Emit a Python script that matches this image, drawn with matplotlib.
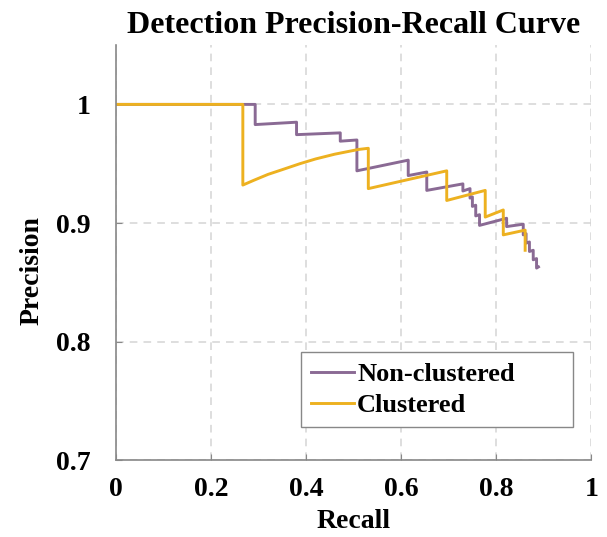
import matplotlib
matplotlib.use("Agg")
import matplotlib.pyplot as plt

# Non-clustered PR curve (recall, precision)
recall_nc = [0.0, 0.293, 0.293, 0.380, 0.380, 0.472, 0.472, 0.507, 0.507,
             0.615, 0.615, 0.654, 0.654, 0.730, 0.730, 0.745, 0.745, 0.750,
             0.750, 0.757, 0.757, 0.765, 0.765, 0.822, 0.822, 0.857, 0.857,
             0.863, 0.863, 0.870, 0.870, 0.878, 0.878, 0.885, 0.885, 0.889]
prec_nc = [1.0, 1.0, 0.983, 0.985, 0.9745, 0.976, 0.969, 0.970, 0.944,
           0.953, 0.940, 0.943, 0.9275, 0.933, 0.927, 0.929, 0.921, 0.922,
           0.914, 0.915, 0.906, 0.907, 0.898, 0.904, 0.897, 0.899, 0.890,
           0.891, 0.883, 0.884, 0.876, 0.877, 0.869, 0.870, 0.862, 0.863]

# Clustered PR curve (recall, precision)
recall_c = [0.0, 0.267, 0.267, 0.29, 0.32, 0.35, 0.387, 0.42, 0.46, 0.51,
            0.531, 0.531, 0.696, 0.696, 0.777, 0.777, 0.815, 0.815, 0.861,
            0.861]
prec_c = [1.0, 1.0, 0.932, 0.936, 0.941, 0.945, 0.950, 0.954, 0.958, 0.962,
          0.963, 0.929, 0.944, 0.919, 0.9275, 0.905, 0.911, 0.890, 0.894,
          0.877]

x_ticks = [0, 0.2, 0.4, 0.6, 0.8, 1.0]
x_labels = ["0", "0.2", "0.4", "0.6", "0.8", "1"]
y_ticks = [0.7, 0.8, 0.9, 1.0]
y_labels = ["0.7", "0.8", "0.9", "1"]

plt.rcParams['font.family'] = ['Liberation Serif', 'DejaVu Serif']
plt.rcParams['font.weight'] = 'bold'

fig = plt.figure(figsize=(6.07, 5.37), dpi=100)
ax = fig.add_axes([0.191, 0.143, 0.783, 0.773])

ax.plot(recall_nc, prec_nc, color='#8a6a94', lw=2.1, label='Non-clustered')
ax.plot(recall_c, prec_c, color='#EDB120', lw=2.1, label='Clustered')

ax.set_xlim(0, 1)
ax.set_ylim(0.7, 1.05)
ax.set_xticks(x_ticks)
ax.set_xticklabels(x_labels)
ax.set_yticks(y_ticks)
ax.set_yticklabels(y_labels)
ax.tick_params(direction='in', length=4, color='#888888', labelsize=20)
ax.tick_params(axis='x', pad=12)
ax.tick_params(axis='y', pad=18)

ax.grid(True, linestyle=(0, (5, 4)), color='#d4d4d4', lw=1.1)
ax.set_axisbelow(True)
for s in ['top', 'right']:
    ax.spines[s].set_visible(False)
for s in ['left', 'bottom']:
    ax.spines[s].set_color('#888888')
    ax.spines[s].set_linewidth(1.2)

ax.set_xlabel('Recall', fontsize=20, fontweight='bold')
ax.set_ylabel('Precision', fontsize=20, fontweight='bold')
ax.xaxis.set_label_coords(0.5, -0.118)
ax.yaxis.set_label_coords(-0.15, 0.458)
ax.set_title('Detection Precision-Recall Curve', fontsize=23, fontweight='bold', pad=9)

leg = ax.legend(loc='lower left', bbox_to_anchor=(0.389, 0.0795, 0.572, 0.18),
                mode='expand', fontsize=19, fancybox=False, framealpha=1,
                edgecolor='#888888', handlelength=1.65, handletextpad=0.1,
                borderpad=0.38, labelspacing=0.3, borderaxespad=0)
leg.get_frame().set_linewidth(1.0)

plt.savefig('out.png', dpi=100)
